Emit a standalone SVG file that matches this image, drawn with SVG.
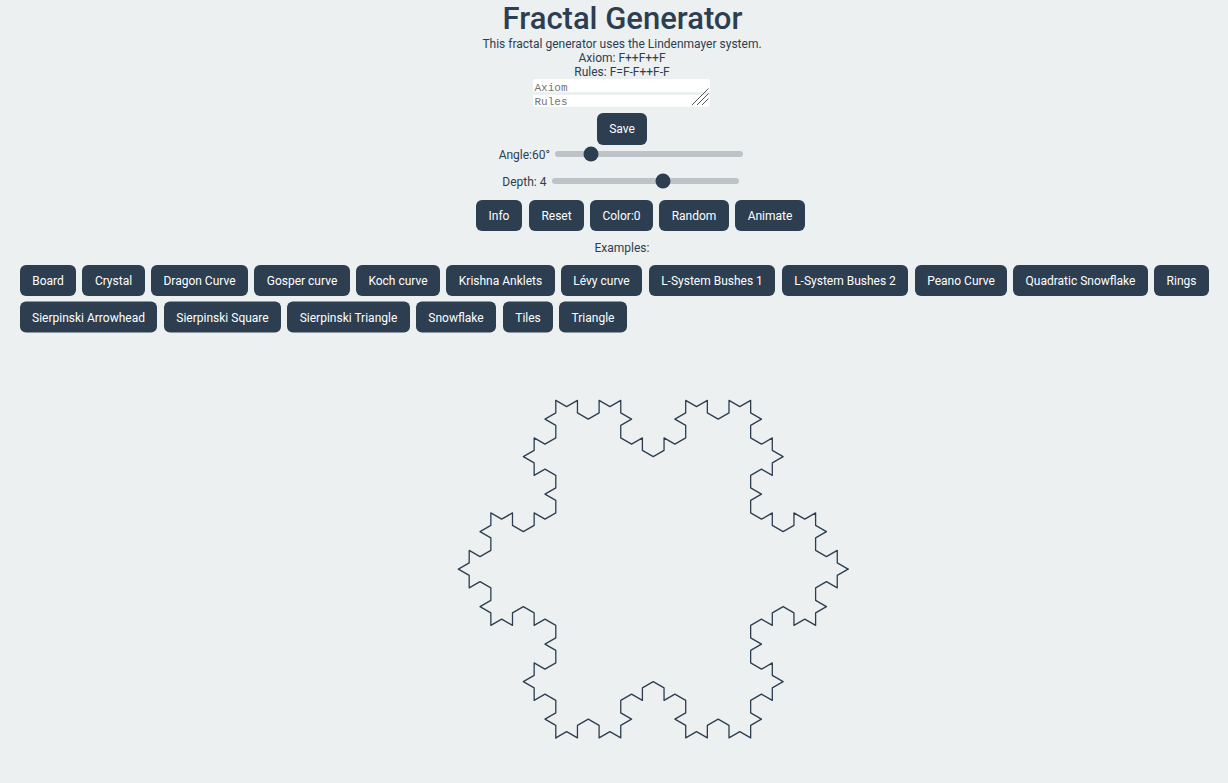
<svg xmlns="http://www.w3.org/2000/svg" xmlns:xlink="http://www.w3.org/1999/xlink" width="1228" height="783" viewBox="0 0 1228 783">
<style>
.t{font-family:Roboto,"Liberation Sans",sans-serif;fill:#2c3e50;font-size:12px;text-anchor:middle}
.btn rect{fill:#2c3e50}
.btn text{font-family:Roboto,"Liberation Sans",sans-serif;fill:#ffffff;font-size:12px;text-anchor:middle}
.track{fill:#bdc3c7}
.thumb{fill:#2c3e50}
.ph{font-family:"Liberation Mono","DejaVu Sans Mono",monospace;font-size:11px;fill:#757575}
.frac{fill:none;stroke:#2c3e50;stroke-width:1.3;stroke-linejoin:round;stroke-linecap:round}
</style>
<defs>
<path id="side" d="M555.8 400.43 l10.825 6.25 10.825 -6.25 0 12.5 10.825 6.25 10.825 -6.25 0 -12.5 10.825 6.25 10.825 -6.25 0 12.5 10.825 6.25 -10.825 6.25 0 12.5 10.825 6.25 10.825 -6.25 0 12.5 10.825 6.25 10.825 -6.25 0 -12.5 10.825 6.25 10.825 -6.25 0 -12.5 -10.825 -6.25 10.825 -6.25 0 -12.5 10.825 6.25 10.825 -6.25 0 12.5 10.825 6.25 10.825 -6.25 0 -12.5 10.825 6.25 10.825 -6.25 0 12.5 10.825 6.25 -10.825 6.25 0 12.5 10.825 6.25 10.825 -6.25 0 12.5 10.825 6.25 -10.825 6.25 0 12.5 -10.825 -6.25 -10.825 6.25 0 12.5 10.825 6.25 -10.825 6.25 0 12.5 10.825 6.25 10.825 -6.25 0 12.5 10.825 6.25 10.825 -6.25 0 -12.5 10.825 6.25 10.825 -6.25 0 12.5 10.825 6.25 -10.825 6.25 0 12.5 10.825 6.25 10.825 -6.25 0 12.5 10.825 6.25"/>
</defs>
<rect width="1228" height="783" fill="#ecf0f1"/>
<g id="header">
<text x="622.5" y="28.5" class="t" style="font-size:31px;font-weight:500">Fractal Generator</text>
<text x="622" y="47.5" class="t">This fractal generator uses the Lindenmayer system.</text>
<text x="622" y="61.5" class="t">Axiom: F++F++F</text>
<text x="622" y="75.5" class="t">Rules: F=F-F++F-F</text>
</g>
<g id="inputs">
<rect x="533" y="79" width="177" height="12.7" rx="2" fill="#ffffff"/>
<rect x="533" y="95" width="177" height="11.7" rx="2" fill="#ffffff"/>
<text x="534.5" y="90.5" class="ph">Axiom</text>
<text x="534.5" y="105" class="ph">Rules</text>
<g stroke="#555" stroke-width="1">
<line x1="692" y1="105" x2="708.5" y2="88.5"/>
<line x1="697" y1="105" x2="708.5" y2="93.5"/>
<line x1="702" y1="105" x2="708.5" y2="98.5"/>
</g>
</g>
<g id="save" class="btn"><rect x="597" y="113" width="50" height="32" rx="6"/><text x="622" y="133">Save</text></g>
<g id="angle">
<text x="550" y="159" class="t" style="text-anchor:end">Angle:60°</text>
<rect class="track" x="555" y="151" width="188" height="6" rx="3"/>
<circle class="thumb" cx="591" cy="154" r="7.5"/>
</g>
<g id="depth">
<text x="546.5" y="186" class="t" style="text-anchor:end">Depth: 4</text>
<rect class="track" x="552" y="178" width="187" height="6" rx="3"/>
<circle class="thumb" cx="663" cy="181" r="7.5"/>
</g>
<g id="controls">
<g id="btn-info" class="btn"><rect x="476" y="200" width="46" height="31" rx="6"/><text x="499" y="219.5">Info</text></g>
<g id="btn-reset" class="btn"><rect x="529" y="200" width="55" height="31" rx="6"/><text x="556.5" y="219.5">Reset</text></g>
<g id="btn-color" class="btn"><rect x="590" y="200" width="63" height="31" rx="6"/><text x="621.5" y="219.5">Color:0</text></g>
<g id="btn-random" class="btn"><rect x="659" y="200" width="70" height="31" rx="6"/><text x="694" y="219.5">Random</text></g>
<g id="btn-animate" class="btn"><rect x="735" y="200" width="70" height="31" rx="6"/><text x="770" y="219.5">Animate</text></g>
</g>
<text x="622" y="251.5" class="t">Examples:</text>
<g id="examples">
<g class="btn"><rect x="20" y="265" width="56" height="31" rx="6"/><text x="48" y="285">Board</text></g>
<g class="btn"><rect x="82" y="265" width="63" height="31" rx="6"/><text x="113.5" y="285">Crystal</text></g>
<g class="btn"><rect x="151" y="265" width="97" height="31" rx="6"/><text x="199.5" y="285">Dragon Curve</text></g>
<g class="btn"><rect x="254" y="265" width="96" height="31" rx="6"/><text x="302" y="285">Gosper curve</text></g>
<g class="btn"><rect x="356" y="265" width="84" height="31" rx="6"/><text x="398" y="285">Koch curve</text></g>
<g class="btn"><rect x="446" y="265" width="109" height="31" rx="6"/><text x="500.5" y="285">Krishna Anklets</text></g>
<g class="btn"><rect x="561" y="265" width="81" height="31" rx="6"/><text x="601.5" y="285">Lévy curve</text></g>
<g class="btn"><rect x="649" y="265" width="126" height="31" rx="6"/><text x="712" y="285">L-System Bushes 1</text></g>
<g class="btn"><rect x="782" y="265" width="126" height="31" rx="6"/><text x="845" y="285">L-System Bushes 2</text></g>
<g class="btn"><rect x="915" y="265" width="92" height="31" rx="6"/><text x="961" y="285">Peano Curve</text></g>
<g class="btn"><rect x="1013" y="265" width="135" height="31" rx="6"/><text x="1080.5" y="285">Quadratic Snowflake</text></g>
<g class="btn"><rect x="1154" y="265" width="55" height="31" rx="6"/><text x="1181.5" y="285">Rings</text></g>
<g class="btn"><rect x="20" y="301.5" width="137" height="31" rx="6"/><text x="88.5" y="321.5">Sierpinski Arrowhead</text></g>
<g class="btn"><rect x="164" y="301.5" width="117" height="31" rx="6"/><text x="222.5" y="321.5">Sierpinski Square</text></g>
<g class="btn"><rect x="287" y="301.5" width="123" height="31" rx="6"/><text x="348.5" y="321.5">Sierpinski Triangle</text></g>
<g class="btn"><rect x="416" y="301.5" width="80" height="31" rx="6"/><text x="456" y="321.5">Snowflake</text></g>
<g class="btn"><rect x="503" y="301.5" width="50" height="31" rx="6"/><text x="528" y="321.5">Tiles</text></g>
<g class="btn"><rect x="559" y="301.5" width="68" height="31" rx="6"/><text x="593" y="321.5">Triangle</text></g>
</g>
<g id="fractal" class="frac">
<use xlink:href="#side"/>
<use xlink:href="#side" transform="rotate(120 653.225 569.18)"/>
<use xlink:href="#side" transform="rotate(240 653.225 569.18)"/>
</g>
</svg>
